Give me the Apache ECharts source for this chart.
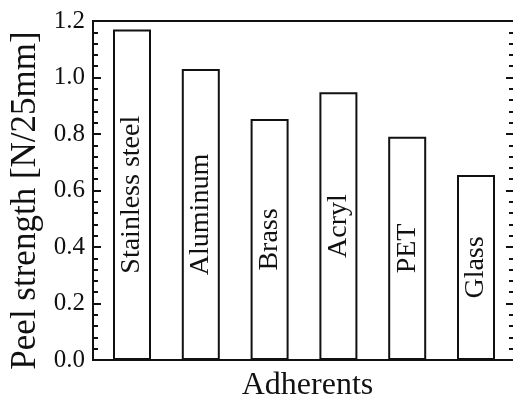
<!DOCTYPE html>
<html>
<head>
<meta charset="utf-8">
<script src="https://cdn.jsdelivr.net/npm/echarts@6/dist/echarts.min.js"></script>
<style>
html,body{margin:0;padding:0;background:#fff;}
#chart{width:513px;height:398px;}
</style>
</head>
<body>
<div id="chart"></div>
<script>
const categories = ['Stainless steel', 'Aluminum', 'Brass', 'Acryl', 'PET', 'Glass'];
const peelStrength = [1.17, 1.03, 0.853, 0.948, 0.79, 0.655];
const yTicks = { min: 0, max: 1.2, interval: 0.2 };
const xTitle = 'Adherents';
const yTitle = 'Peel strength [N/25mm]';

const FONT = "'Liberation Serif', 'Times New Roman', serif";
const INK = '#111';

const chart = echarts.init(document.getElementById('chart'), null, { renderer: 'canvas' });
const lineStyle = { color: INK, width: 2 };

chart.setOption({
  animation: false,
  backgroundColor: '#fff',
  grid: [
    { left: 93, right: -1, top: 21, bottom: 38, containLabel: false, outerBoundsMode: 'none', show: true, borderColor: INK, borderWidth: 2, backgroundColor: 'transparent' },
    { left: 97.6, right: 2.6, top: 21, bottom: 38, containLabel: false, outerBoundsMode: 'none' }
  ],
  xAxis: [
    {
      gridIndex: 0, type: 'category', data: categories,
      axisLine: { show: true, lineStyle: lineStyle },
      axisTick: { show: false }, axisLabel: { show: false },
      name: xTitle, nameLocation: 'middle', nameGap: 10,
      nameTextStyle: { fontFamily: FONT, fontSize: 32, color: INK, padding: [0, 0, 0, 8] }
    },
    {
      gridIndex: 1, type: 'category', data: categories,
      axisLine: { show: false }, axisTick: { show: false }, axisLabel: { show: false }
    }
  ],
  yAxis: [
    {
      gridIndex: 0, type: 'value', position: 'left',
      min: yTicks.min, max: yTicks.max, interval: yTicks.interval,
      axisLine: { show: true, lineStyle: lineStyle },
      axisTick: { show: true, inside: true, length: 8, lineStyle: lineStyle },
      minorTick: { show: true, splitNumber: 5, length: 5, lineStyle: lineStyle },
      splitLine: { show: false },
      axisLabel: { fontFamily: FONT, fontSize: 25, color: INK, margin: 8, formatter: v => v.toFixed(1) },
      name: yTitle, nameLocation: 'middle', nameGap: 45, nameRotate: 90,
      nameTextStyle: { fontFamily: FONT, fontSize: 35, color: INK, padding: [0, 20, 0, 0] }
    },
    {
      gridIndex: 0, type: 'value', position: 'right',
      min: yTicks.min, max: yTicks.max, interval: yTicks.interval,
      axisLine: { show: true, lineStyle: lineStyle },
      axisTick: { show: true, inside: true, length: 8, lineStyle: lineStyle },
      minorTick: { show: true, splitNumber: 5, length: 5, lineStyle: lineStyle },
      splitLine: { show: false },
      axisLabel: { show: false }
    },
    {
      gridIndex: 1, type: 'value',
      min: yTicks.min, max: yTicks.max, interval: yTicks.interval,
      show: false
    }
  ],
  series: [
    {
      type: 'bar', xAxisIndex: 1, yAxisIndex: 2,
      data: peelStrength, barWidth: 38,
      itemStyle: { color: '#fff', borderColor: INK, borderWidth: 2 },
      label: {
        show: true, position: 'inside', rotate: 90,
        formatter: p => p.name,
        fontFamily: FONT, fontSize: 28, color: INK
      }
    }
  ]
});
</script>
</body>
</html>
